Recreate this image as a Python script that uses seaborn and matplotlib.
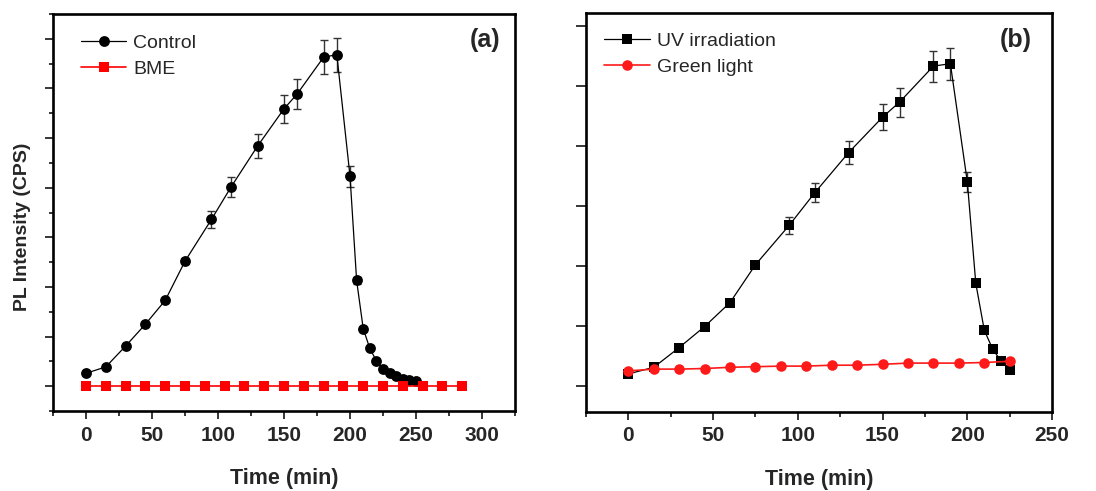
import numpy as np
import pandas as pd
import matplotlib
matplotlib.use("Agg")
import matplotlib.pyplot as plt
from matplotlib.ticker import MultipleLocator, NullFormatter
import seaborn as sns

# ---------------- data ----------------
# Panel (a)
ctrl_time = [0, 15, 30, 45, 60, 75, 95, 110, 130, 150, 160, 180, 190, 200,
             205, 210, 215, 220, 225, 230, 235, 240, 245, 250]
ctrl_int = [0.26, 0.39, 0.81, 1.25, 1.73, 2.52, 3.36, 4.02, 4.84, 5.59, 5.89,
            6.63, 6.68, 4.23, 2.13, 1.16, 0.76, 0.51, 0.34, 0.27, 0.20, 0.15,
            0.12, 0.11]
ctrl_err = [0.02, 0.02, 0.02, 0.03, 0.03, 0.06, 0.17, 0.20, 0.24, 0.28, 0.30,
            0.34, 0.34, 0.21, 0.07, 0.03, 0.02, 0.02, 0.02, 0.02, 0.02, 0.02,
            0.02, 0.02]
bme_time = [0, 15, 30, 45, 60, 75, 90, 105, 120, 135, 150, 165, 180, 195,
            210, 225, 240, 255, 270, 285]
bme_int = [0.0] * 20

# Panel (b)
uv_time = [0, 15, 30, 45, 60, 75, 95, 110, 130, 150, 160, 180, 190, 200,
           205, 210, 215, 220, 225]
uv_int = [0.20, 0.31, 0.64, 0.99, 1.39, 2.02, 2.68, 3.22, 3.89, 4.48, 4.73,
          5.33, 5.37, 3.40, 1.71, 0.93, 0.61, 0.41, 0.26]
uv_err = [0.04, 0.04, 0.02, 0.02, 0.02, 0.04, 0.14, 0.16, 0.19, 0.22, 0.24,
          0.26, 0.27, 0.17, 0.05, 0.03, 0.02, 0.02, 0.02]
green_time = [0, 15, 30, 45, 60, 75, 90, 105, 120, 135, 150, 165, 180, 195,
              210, 225]
green_int = [0.25, 0.28, 0.28, 0.29, 0.31, 0.32, 0.33, 0.33, 0.345, 0.345,
             0.36, 0.38, 0.38, 0.38, 0.39, 0.41]

x_label = "Time (min)"
y_label = "PL Intensity (CPS)"

# ---------------- style ----------------
sns.set_style("ticks")
plt.rcParams["font.family"] = ["Liberation Sans", "DejaVu Sans"]

fig = plt.figure(figsize=(10.96, 4.91), dpi=100)
ax1 = fig.add_axes([0.0484, 0.1629, 0.4215, 0.8086])
ax2 = fig.add_axes([0.5347, 0.1615, 0.4252, 0.8114])

ERR_C = "#333333"


def style_axes(ax, xlim, ylim, ymajor, yminor):
    ax.set_xlim(*xlim)
    ax.set_ylim(*ylim)
    ax.xaxis.set_major_locator(MultipleLocator(50))
    ax.xaxis.set_minor_locator(MultipleLocator(25))
    ax.yaxis.set_major_locator(MultipleLocator(ymajor))
    if yminor:
        ax.yaxis.set_minor_locator(MultipleLocator(yminor))
    ax.yaxis.set_major_formatter(NullFormatter())
    ax.yaxis.set_minor_formatter(NullFormatter())
    for s in ax.spines.values():
        s.set_linewidth(1.9)
        s.set_color("black")
        s.set_visible(True)
    ax.tick_params(axis="x", which="major", direction="out", length=6,
                   width=1.3, labelsize=15, pad=4.5, top=False)
    ax.tick_params(axis="x", which="minor", direction="out", length=3.5,
                   width=1.3, top=False)
    ax.tick_params(axis="y", which="major", direction="out", length=5.5,
                   width=1.3, right=False)
    ax.tick_params(axis="y", which="minor", direction="out", length=3,
                   width=1.3, right=False)
    for lab in ax.get_xticklabels():
        lab.set_fontweight("bold")


# ---------------- panel (a) ----------------
ax1.errorbar(ctrl_time, ctrl_int, yerr=ctrl_err, fmt="none", ecolor=ERR_C,
             elinewidth=1.0, capsize=3, capthick=1.0, zorder=2)
sns.lineplot(x=ctrl_time, y=ctrl_int, ax=ax1, color="black", marker="o",
             markersize=7.8, markeredgewidth=0, linewidth=0.9,
             label="Control", zorder=3)
sns.lineplot(x=bme_time, y=bme_int, ax=ax1, color="#ff0000", marker="s",
             markersize=6.8, markeredgewidth=0, linewidth=1.2,
             label="BME", zorder=4)
style_axes(ax1, (-25, 325), (-0.5, 7.5), 1, 0.5)
ax1.set_xlabel(x_label, fontsize=15.5, fontweight="bold")
ax1.set_ylabel(y_label, fontsize=14, fontweight="bold")
ax1.xaxis.set_label_coords(0.5, -0.144)
ax1.yaxis.set_label_coords(-0.048, 0.465)
ax1.legend(loc="upper left", bbox_to_anchor=(0.06, 0.948), frameon=False,
           fontsize=14, handlelength=2.35, handletextpad=0.35,
           labelspacing=0.40, borderpad=0, borderaxespad=0)
ax1.text(0.9675, 0.9345, "(a)", transform=ax1.transAxes, ha="right",
         va="center", fontsize=18, fontweight="bold")

# ---------------- panel (b) ----------------
ax2.errorbar(uv_time, uv_int, yerr=uv_err, fmt="none", ecolor=ERR_C,
             elinewidth=1.0, capsize=3, capthick=1.0, zorder=2)
sns.lineplot(x=uv_time, y=uv_int, ax=ax2, color="black", marker="s",
             markersize=7.0, markeredgewidth=0, linewidth=0.9,
             label="UV irradiation", zorder=3)
sns.lineplot(x=green_time, y=green_int, ax=ax2, color="#ff1a1a", marker="o",
             markersize=7.6, markeredgewidth=0, linewidth=1.2,
             label="Green light", zorder=4)
style_axes(ax2, (-25, 250), (-0.43, 6.21), 1, None)
ax2.tick_params(axis="y", which="major", length=7)
ax2.set_xlabel(x_label, fontsize=15.5, fontweight="bold")
ax2.set_ylabel("")
ax2.xaxis.set_label_coords(0.5, -0.144)
ax2.legend(loc="upper left", bbox_to_anchor=(0.0386, 0.952), frameon=False,
           fontsize=14, handlelength=2.35, handletextpad=0.35,
           labelspacing=0.44, borderpad=0, borderaxespad=0)
ax2.text(0.957, 0.933, "(b)", transform=ax2.transAxes, ha="right",
         va="center", fontsize=18, fontweight="bold")

fig.savefig("out.png", dpi=100)
